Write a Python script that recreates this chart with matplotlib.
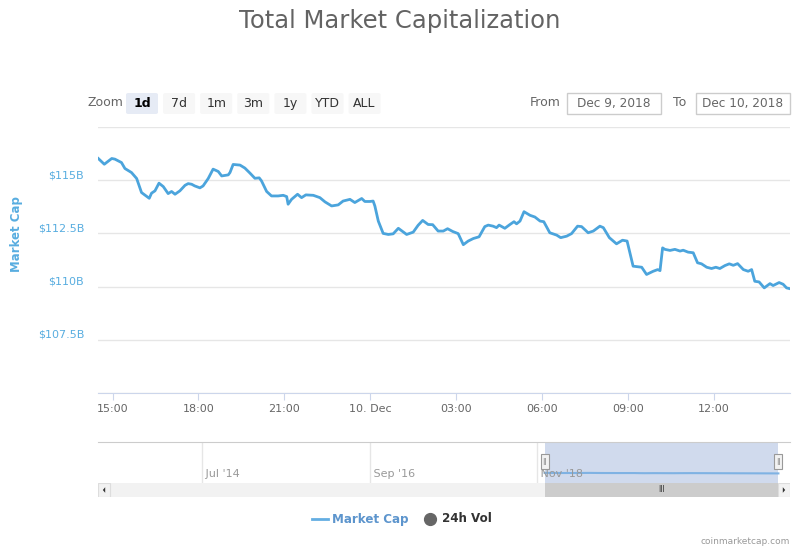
import matplotlib
matplotlib.use("Agg")
import matplotlib.pyplot as plt
from matplotlib.patches import Rectangle, FancyBboxPatch, Polygon
from matplotlib.lines import Line2D
import matplotlib.transforms as mtransforms

# ---------------- data ----------------
title = "Total Market Capitalization"
# hours since 9 Dec 2018 00:00
hours = [14.50, 14.71, 14.97, 15.08, 15.31, 15.43, 15.66, 15.84, 16.01, 16.28,
         16.36, 16.48, 16.62, 16.77, 16.94, 17.06, 17.18, 17.35, 17.53, 17.64,
         17.76, 17.87, 18.05, 18.16, 18.34, 18.51, 18.69, 18.81, 19.04, 19.10,
         19.21, 19.45, 19.62, 19.80, 19.97, 20.12, 20.20, 20.38, 20.55, 20.78,
         20.96, 21.08, 21.13, 21.25, 21.46, 21.60, 21.75, 22.01, 22.24, 22.42,
         22.65, 22.88, 23.05, 23.29, 23.46, 23.70, 23.81, 23.99, 24.10, 24.16,
         24.28, 24.45, 24.63, 24.80, 24.98, 25.27, 25.50, 25.67, 25.83, 26.02,
         26.18, 26.37, 26.55, 26.70, 26.88, 27.07, 27.25, 27.42, 27.60, 27.80,
         28.00, 28.12, 28.29, 28.41, 28.50, 28.70, 28.88, 29.02, 29.11, 29.23,
         29.37, 29.58, 29.75, 29.93, 30.06, 30.27, 30.51, 30.65, 30.86, 31.03,
         31.24, 31.38, 31.61, 31.79, 32.02, 32.14, 32.35, 32.60, 32.81, 32.97,
         33.18, 33.48, 33.65, 33.88, 34.04, 34.12, 34.21, 34.29, 34.47, 34.64,
         34.82, 34.93, 35.10, 35.28, 35.43, 35.57, 35.75, 35.92, 36.07, 36.21,
         36.39, 36.54, 36.68, 36.83, 37.03, 37.20, 37.32, 37.43, 37.58, 37.76,
         37.96, 38.07, 38.28, 38.42, 38.54, 38.63]
market_cap_b = [116.02, 115.75, 116.02, 115.99, 115.83, 115.55, 115.36, 115.08, 114.42, 114.15,
                114.39, 114.50, 114.86, 114.70, 114.37, 114.47, 114.34, 114.50, 114.76, 114.84,
                114.81, 114.73, 114.64, 114.73, 115.08, 115.52, 115.41, 115.20, 115.25, 115.36,
                115.74, 115.71, 115.57, 115.33, 115.09, 115.11, 114.97, 114.47, 114.26, 114.26,
                114.29, 114.23, 113.87, 114.10, 114.34, 114.18, 114.31, 114.29, 114.18, 113.98,
                113.79, 113.84, 114.02, 114.10, 113.95, 114.14, 114.00, 114.00, 114.02, 113.79,
                113.08, 112.50, 112.45, 112.48, 112.74, 112.45, 112.56, 112.88, 113.11, 112.92,
                112.91, 112.61, 112.61, 112.72, 112.59, 112.49, 111.97, 112.14, 112.26, 112.34,
                112.82, 112.89, 112.84, 112.77, 112.89, 112.74, 112.92, 113.05, 112.95, 113.08,
                113.52, 113.35, 113.27, 113.08, 113.05, 112.53, 112.42, 112.30, 112.37, 112.49,
                112.84, 112.82, 112.53, 112.61, 112.84, 112.77, 112.30, 112.01, 112.18, 112.14,
                110.96, 110.91, 110.57, 110.72, 110.80, 110.75, 111.82, 111.75, 111.70, 111.75,
                111.67, 111.71, 111.62, 111.59, 111.12, 111.07, 110.91, 110.85, 110.91, 110.85,
                110.99, 111.07, 111.00, 111.08, 110.80, 110.72, 110.80, 110.25, 110.22, 109.94,
                110.14, 110.05, 110.19, 110.11, 109.94, 109.91]
x_ticks = [15, 18, 21, 24, 27, 30, 33, 36]
x_tick_labels = ["15:00", "18:00", "21:00", "10. Dec", "03:00", "06:00", "09:00", "12:00"]
y_ticks = [107.5, 110, 112.5, 115]
y_tick_labels = ["$107.5B", "$110B", "$112.5B", "$115B"]
zoom_buttons = ["1d", "7d", "1m", "3m", "1y", "YTD", "ALL"]
date_from = "Dec 9, 2018"
date_to = "Dec 10, 2018"
nav_ticks = [2014.5, 2016.67, 2018.83]
nav_tick_labels = ["Jul '14", "Sep '16", "Nov '18"]
nav_selection = [2018.93, 2021.95]

# ---------------- style ----------------
W, H = 800, 550
LINE = "#4ba4dc"
BLUE_TXT = "#58ade0"
GRID = "#e6e6e6"
GRAY = "#666666"
NARROW = ["DejaVu Sans Condensed", "Liberation Sans Narrow", "DejaVu Sans"]

def fx(px):
    return px / W

def fy(py):
    return 1 - py / H

fig = plt.figure(figsize=(8, 5.5), dpi=100)
fig.patch.set_facecolor("white")

fig.text(0.5, fy(21), title, ha="center", va="center", fontsize=17.5, color="#636363")

# ---------------- main chart ----------------
ax = fig.add_axes([fx(98), fy(393), fx(790) - fx(98), fy(127) - fy(393)])
ax.plot(hours, market_cap_b, color=LINE, lw=2, solid_joinstyle="round")
ax.set_xlim(14.49, 38.66)
ax.set_ylim(105, 117.5)
ax.set_yticks([105] + y_ticks + [117.5])
ax.set_yticklabels([""] + y_tick_labels + [""])
ax.grid(axis="y", color=GRID, lw=1)
ax.set_axisbelow(True)
ax.set_xticks(x_ticks)
ax.set_xticklabels(x_tick_labels)
for s in ["top", "right", "left"]:
    ax.spines[s].set_visible(False)
ax.spines["bottom"].set_color("#ccd6eb")
ax.tick_params(axis="x", colors="#ccd6eb", labelcolor=GRAY, labelsize=8, length=5, pad=3)
ax.tick_params(axis="y", length=0, labelcolor=BLUE_TXT, pad=10)
for lab in ax.get_yticklabels():
    lab.set_verticalalignment("bottom")
    lab.set_family(NARROW)
    lab.set_fontsize(8)
ax.set_ylabel("Market Cap", color=BLUE_TXT, fontsize=8.5, fontweight="bold")
ax.yaxis.set_label_coords(-0.108, (393 - 234) / 266)

# ---------------- range selector ----------------
fig.text(fx(88), fy(103), "Zoom", ha="left", va="center", fontsize=9, color=GRAY)
for i, b in enumerate(zoom_buttons):
    x0 = 126 + i * 37.1
    sel = (i == 0)
    fig.patches.append(FancyBboxPatch((fx(x0), fy(114)), fx(32), fy(93) - fy(114),
                                      boxstyle="round,pad=0,rounding_size=0.003",
                                      transform=fig.transFigure, facecolor="#e6ebf5" if sel else "#f7f7f7",
                                      edgecolor="none"))
    fig.text(fx(x0 + 16), fy(103.5), b, ha="center", va="center", fontsize=9,
             color="#000000" if sel else "#333333", fontweight="bold" if sel else "normal")

fig.text(fx(530), fy(103), "From", ha="left", va="center", fontsize=9, color=GRAY)
fig.text(fx(673), fy(103), "To", ha="left", va="center", fontsize=9, color=GRAY)
for x0, txt in [(567, date_from), (696, date_to)]:
    fig.patches.append(Rectangle((fx(x0), fy(114)), fx(94), fy(93) - fy(114),
                                 transform=fig.transFigure, facecolor="white",
                                 edgecolor="#cccccc", lw=1))
    fig.text(fx(x0 + 47), fy(103), txt, ha="center", va="center", fontsize=8.7, color=GRAY)

# ---------------- navigator ----------------
nav_lo, nav_hi = 2013.16, 2022.1
nav = fig.add_axes([fx(98), fy(483), fx(790) - fx(98), fy(442) - fy(483)])
nav.set_xlim(nav_lo, nav_hi)
nav.set_ylim(0, 470)
for s in ["right", "left", "bottom"]:
    nav.spines[s].set_visible(False)
nav.spines["top"].set_color("#cccccc")
nav.set_xticks([])
nav.set_yticks([])
btr = mtransforms.blended_transform_factory(nav.transData, nav.transAxes)
for t, lab in zip(nav_ticks, nav_tick_labels):
    nav.axvline(t, color=GRID, lw=1, zorder=0)
    nav.text(t, 0.22, " " + lab, ha="left", va="center", fontsize=8, color="#999999",
             family=NARROW, transform=btr)
nav.axvspan(nav_selection[0], nav_selection[1], color="#cbd6ec", alpha=0.9, lw=0, zorder=1)
span = nav_selection[1] - nav_selection[0]
h0, h1 = hours[0], hours[-1]
nav_x = [nav_selection[0] + (h - h0) / (h1 - h0) * span for h in hours]
nav.plot(nav_x, market_cap_b, color="#7fb2e3", lw=1.5, zorder=2)
hw = 8 / 692 * (nav_hi - nav_lo)
for xs in nav_selection:
    nav.add_patch(Rectangle((xs - hw / 2, (483 - 469) / 41), hw, 15 / 41, transform=btr,
                            facecolor="#f2f2f2", edgecolor="#999999", lw=0.8, zorder=3, clip_on=False))
    nav.text(xs, (483 - 461.5) / 41, "||", transform=btr, ha="center", va="center",
             fontsize=5, color="#777777", zorder=4)

# ---------------- scrollbar ----------------
sb = fig.add_axes([fx(98), fy(497), fx(790) - fx(98), fy(483) - fy(497)])
sb.set_xlim(nav_lo, nav_hi)
sb.set_ylim(0, 1)
sb.set_facecolor("#f2f2f2")
for s in sb.spines.values():
    s.set_visible(False)
sb.set_xticks([])
sb.set_yticks([])
sb.axvspan(nav_selection[0], nav_selection[1], color="#cccccc", lw=0)
sb.text(sum(nav_selection) / 2, 0.5, "III", ha="center", va="center", fontsize=5.5, color="#333333")
bw = 12 / 692 * (nav_hi - nav_lo)
for xb, d in [(nav_lo, 1), (nav_hi - bw, -1)]:
    sb.add_patch(Rectangle((xb, 0), bw, 1, facecolor="#f2f2f2", edgecolor="#dddddd", lw=0.8, zorder=3))
    cx = xb + bw / 2
    tw = 2 / 692 * (nav_hi - nav_lo)
    sb.add_patch(Polygon([(cx - d * tw * 0.6, 0.5), (cx + d * tw * 0.6, 0.3), (cx + d * tw * 0.6, 0.7)],
                         closed=True, facecolor="#333333", edgecolor="none", zorder=4))

# ---------------- legend ----------------
fig.add_artist(Line2D([fx(312), fx(328)], [fy(519), fy(519)], color="#64aee2", lw=2,
                      transform=fig.transFigure))
fig.text(fx(332), fy(519), "Market Cap", ha="left", va="center", fontsize=8.6, fontweight="bold",
         color="#5d95cd", family=NARROW)
fig.add_artist(Line2D([fx(430)], [fy(519)], marker="o", markersize=8.5, color="#666666",
                      transform=fig.transFigure, lw=0))
fig.text(fx(442), fy(519), "24h Vol", ha="left", va="center", fontsize=8.6, fontweight="bold",
         color="#333333", family=NARROW)

fig.text(fx(790), fy(541), "coinmarketcap.com", ha="right", va="center", fontsize=6.5,
         color="#999999", family=NARROW)

fig.savefig("out.png", dpi=100)
